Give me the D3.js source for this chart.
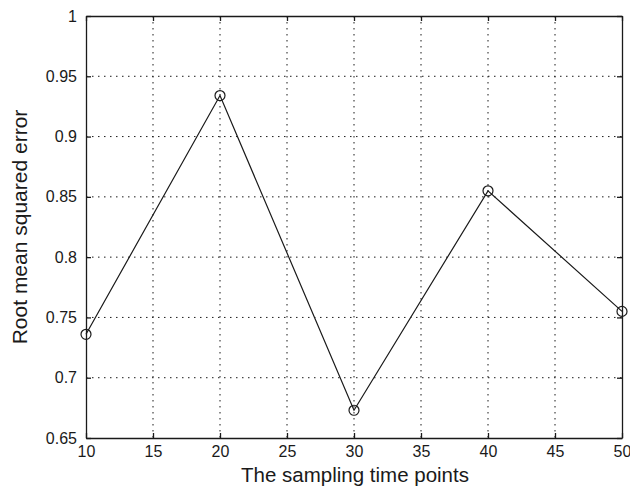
<!DOCTYPE html>
<html>
<head>
<meta charset="utf-8">
<script src="https://cdn.jsdelivr.net/npm/d3@7/dist/d3.min.js"></script>
<style>
  html, body { margin: 0; padding: 0; background: #fff; }
  svg { display: block; }
  text { font-family: "Liberation Sans", Arial, Helvetica, sans-serif; fill: #1a1a1a; }
</style>
</head>
<body>
<svg id="chart" width="630" height="492"></svg>
<script>
// Data
const timePoints = [10, 20, 30, 40, 50];
const rmseValues = [0.736, 0.934, 0.673, 0.855, 0.755];
const xTicks = [10, 15, 20, 25, 30, 35, 40, 45, 50];
const yTicks = [0.65, 0.7, 0.75, 0.8, 0.85, 0.9, 0.95, 1];
const xLabel = "The sampling time points";
const yLabel = "Root mean squared error";

(function () {
const svg = d3.select("#chart");
const pL = 86, pR = 622, pT = 16, pB = 438;

const x = d3.scaleLinear().domain([10, 50]).range([pL, pR]);
const y = d3.scaleLinear().domain([0.65, 1]).range([pB, pT]);

const ink = "#1a1a1a";
const fmt = d => String(+d.toFixed(2));

// Grid
const grid = svg.append("g");
grid.selectAll(".gx").data(xTicks.slice(1, -1)).enter().append("line")
  .attr("x1", d => x(d)).attr("x2", d => x(d))
  .attr("y1", pT).attr("y2", pB)
  .attr("stroke", ink).attr("stroke-width", 1).attr("stroke-dasharray", "1.5,4.5");
grid.selectAll(".gy").data(yTicks.slice(1, -1)).enter().append("line")
  .attr("y1", d => y(d)).attr("y2", d => y(d))
  .attr("x1", pL).attr("x2", pR)
  .attr("stroke", ink).attr("stroke-width", 1).attr("stroke-dasharray", "1.5,4.5");

// Axes (inner ticks, MATLAB style)
const tickLen = 5;
const bottomAxis = d3.axisBottom(x).tickValues(xTicks).tickSizeInner(-tickLen).tickSizeOuter(0).tickPadding(8).tickFormat(fmt);
const leftAxis = d3.axisLeft(y).tickValues(yTicks).tickSizeInner(-tickLen).tickSizeOuter(0).tickPadding(9).tickFormat(fmt);
const topAxis = d3.axisTop(x).tickValues(xTicks).tickSizeInner(-tickLen).tickSizeOuter(0).tickFormat("");
const rightAxis = d3.axisRight(y).tickValues(yTicks).tickSizeInner(-tickLen).tickSizeOuter(0).tickFormat("");

function styleAxis(g) {
  g.select(".domain").attr("stroke", ink).attr("stroke-width", 1.3);
  g.selectAll(".tick line").attr("stroke", ink).attr("stroke-width", 1.3);
  g.selectAll(".tick text").attr("fill", ink).style("font-size", "16px")
   .style("font-family", "'Liberation Sans', Arial, sans-serif");
}

svg.append("g").attr("transform", `translate(0,${pB})`).call(bottomAxis).call(styleAxis);
svg.append("g").attr("transform", `translate(${pL},0)`).call(leftAxis).call(styleAxis);
svg.append("g").attr("transform", `translate(0,${pT})`).call(topAxis).call(styleAxis);
svg.append("g").attr("transform", `translate(${pR},0)`).call(rightAxis).call(styleAxis);

// Line
const pts = timePoints.map((t, i) => [t, rmseValues[i]]);
svg.append("path").datum(pts)
  .attr("fill", "none").attr("stroke", ink).attr("stroke-width", 1.2)
  .attr("d", d3.line().x(d => x(d[0])).y(d => y(d[1])));

svg.selectAll(".pt").data(pts).enter().append("circle")
  .attr("cx", d => x(d[0])).attr("cy", d => y(d[1])).attr("r", 5)
  .attr("fill", "none").attr("stroke", ink).attr("stroke-width", 1.2);

// Labels
svg.append("text").attr("x", 355).attr("y", 482)
  .attr("text-anchor", "middle").style("font-size", "20.5px").text(xLabel);
svg.append("text").attr("transform", `translate(27,${(pT + pB) / 2}) rotate(-90)`)
  .attr("text-anchor", "middle").style("font-size", "21px").text(yLabel);
})();
</script>
</body>
</html>
